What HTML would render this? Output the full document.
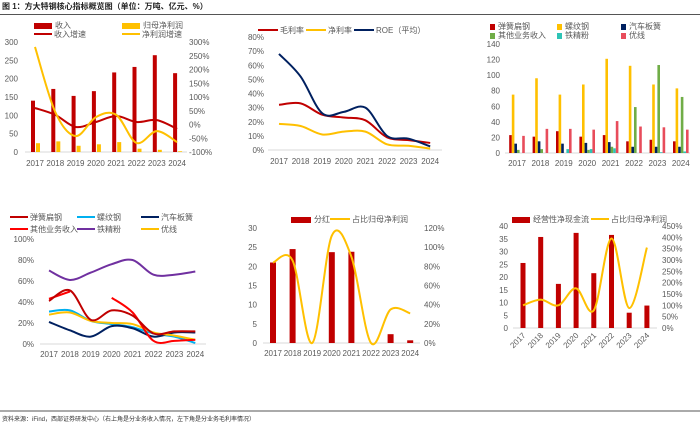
<!DOCTYPE html>
<html><head><meta charset="utf-8"><style>
body{margin:0;background:#fff;}
svg{display:block;font-family:"Liberation Sans","Noto Sans CJK SC",sans-serif;}
text{fill:#595959;font-size:8px;}
</style></head><body>
<svg id="c" width="700" height="424" viewBox="0 0 700 424">
<text x="2" y="9" style="font-size:8px;fill:#222;font-weight:bold">图 1：方大特钢核心指标概览图（单位：万吨、亿元、%）</text>
<line x1="0" y1="14.5" x2="700" y2="14.5" stroke="#555" stroke-width="1"/>
<line x1="0" y1="411" x2="700" y2="411" stroke="#555" stroke-width="1"/>
<text x="2" y="421" style="font-size:6px;fill:#333">资料来源：iFind，西部证券研发中心（右上角是分业务收入情况，左下角是分业务毛利率情况）</text>
</svg>
<script>
const years=['2017','2018','2019','2020','2021','2022','2023','2024'];
// panel 1
const revenue=[140,172,153,166,217,232,264,215];
const netProfit=[24,29,17,21,27,9,6,2];
const revGrowth=[60,35,-9,9,31,9,16,-16];
const npGrowth=[282,45,-42,27,35,-67,-24,-64];
const p1LeftTicks=[0,50,100,150,200,250,300];
const p1RightTicks=[-100,-50,0,50,100,150,200,250,300];
// panel 2
const grossMargin=[32,33,25,23,21,9,7,5];
const netMargin=[18.5,17,11,13,13,4,3,1];
const roe=[68,52,26,27,30,10,8,2.5];
const p2Ticks=[0,10,20,30,40,50,60,70,80];
// panel 3
const segSpring=[23,21,28,21,23,15,17,15];
const segRebar=[75,96,75,88,121,112,88,83];
const segAuto=[12,15,12,13,14,8,8,8];
const segOther=[4,5,0,4,8,59,113,72];
const segIron=[0,0,5,5,6,0,1,2];
const segWire=[22,31,31,30,41,34,33,30];
const p3Ticks=[0,20,40,60,80,100,120,140];
// panel 4
const gmSpring=[41,51,23,32,27,10,12,12];
const gmRebar=[31,32,22,19,16,10,7,1];
const gmAuto=[21,13,7,17,15,7,11,11];
const gmOther=[43,50,null,44,30,3,3,4];
const gmIron=[70,61,68,76,80,66,66,69];
const gmWire=[28,30,22,20,19,11,8,4];
const p4Ticks=[0,20,40,60,80,100];
// panel 5
const dividend=[21,24.5,0,23.7,23.8,0,2.3,0.7];
const divRatio=[84,86,0,112,90,0,35,31];
const p5LeftTicks=[0,5,10,15,20,25,30];
const p5RightTicks=[0,20,40,60,80,100,120];
// panel 6
const opCash=[25.5,35.7,17.3,37.3,21.5,36.5,6,8.8];
const cashRatio=[100,125,100,175,78,395,88,355];
const p6LeftTicks=[0,5,10,15,20,25,30,35,40];
const p6RightTicks=[0,50,100,150,200,250,300,350,400,450];

const svg=document.getElementById('c');
const NS='http://www.w3.org/2000/svg';
function mk(tag,attrs,parent){const e=document.createElementNS(NS,tag);for(const k in attrs)e.setAttribute(k,attrs[k]);(parent||svg).appendChild(e);return e;}
function txt(x,y,s,anchor,size,parent){const t=mk('text',{x:x,y:y,'text-anchor':anchor||'start'},parent);if(size)t.style.fontSize=size+'px';t.textContent=s;return t;}
function scale(d0,d1,r0,r1){return v=>r0+(v-d0)/(d1-d0)*(r1-r0);}
function smooth(pts){
  let d='';
  for(let i=0;i<pts.length;i++){
    const p=pts[i];
    if(i===0){d+='M'+p[0]+','+p[1];continue;}
    const p0=pts[i-2]||pts[i-1],p1=pts[i-1],p2=p,p3=pts[i+1]||p;
    const c1=[p1[0]+(p2[0]-p0[0])/6,p1[1]+(p2[1]-p0[1])/6];
    const c2=[p2[0]-(p3[0]-p1[0])/6,p2[1]-(p3[1]-p1[1])/6];
    d+='C'+c1[0]+','+c1[1]+' '+c2[0]+','+c2[1]+' '+p2[0]+','+p2[1];
  }
  return d;
}
function line(vals,xf,yf,color,name,g){
  let segs=[],cur=[];
  vals.forEach((v,i)=>{if(v===null){if(cur.length)segs.push(cur);cur=[];}else cur.push([xf(i),yf(v)]);});
  if(cur.length)segs.push(cur);
  segs.forEach(s=>{
    const p=mk('path',{d:smooth(s),fill:'none',stroke:color,'stroke-width':2},g);
    
    
  });
}
function bars(vals,xf,yf,w,off,color,name,g){
  vals.forEach((v,i)=>{
    const y0=yf(0),y1=yf(v);
    const r=mk('rect',{x:xf(i)+off-w/2,y:Math.min(y0,y1),width:w,height:Math.abs(y0-y1),fill:color},g);
    
    
  });
}
function group(name){const g=mk('g',{});return g;}
function legRect(x,y,color,label,g,w){
  const r=mk('rect',{x:x,y:y-5,width:w||6,height:6,fill:color},g);
  
  const t=txt(x+(w||6)+3,y,label,'start',8,g);
}
function legLine(x,y,color,label,g,w){
  const l=mk('line',{x1:x,y1:y-3,x2:x+(w||18),y2:y-3,stroke:color,'stroke-width':2},g);
  
  const t=txt(x+(w||18)+2,y,label,'start',8,g);
}
function xLabels(xf,y,g,rot){
  years.forEach((s,i)=>{
    const t=rot?txt(xf(i),y,s,'end',8,g):txt(xf(i),y,s,'middle',8,g);
    if(rot)t.setAttribute('transform','rotate(-45 '+xf(i)+' '+y+')');
    
  });
}
function yLabels(ticks,yf,x,anchor,fmt,g){
  ticks.forEach(v=>{const t=txt(x,yf(v)+3,fmt(v),anchor,8,g);});
}
function axis(x0,x1,y,g){const l=mk('line',{x1:x0,y1:y,x2:x1,y2:y,stroke:'#d9d9d9','stroke-width':1},g);}
const pct=v=>v+'%';

// ---- Panel 1
{const g=group('panel-revenue-profit');
 const xf=i=>35+i*20.3, yl=scale(0,300,152,42), yr=scale(-100,300,152,42);
 axis(25,187,152,g);
 yLabels(p1LeftTicks,yl,18,'end',String,g);
 yLabels(p1RightTicks,yr,189,'start',pct,g);
 bars(revenue,xf,yl,4,-2,'#c00000','bar-revenue',g);
 bars(netProfit,xf,yl,4,3,'#ffc000','bar-net-profit',g);
 line(revGrowth,xf,yr,'#c00000','line-revenue-growth',g);
 line(npGrowth,xf,yr,'#ffc000','line-profit-growth',g);
 xLabels(xf,166,g);
 legRect(34,28,'#c00000','收入',g,18);legRect(122,28,'#ffc000','归母净利润',g,18);
 legLine(34,37,'#c00000','收入增速',g);legLine(122,37,'#ffc000','净利润增速',g);
}
// ---- Panel 2
{const g=group('panel-margins');
 const xf=i=>279+i*21.6, yf=scale(0,80,150,37);
 axis(268,442,150,g);
 yLabels(p2Ticks,yf,264,'end',pct,g);
 line(grossMargin,xf,yf,'#c00000','line-gross-margin',g);
 line(netMargin,xf,yf,'#ffc000','line-net-margin',g);
 line(roe,xf,yf,'#002060','line-roe',g);
 xLabels(xf,164,g);
 legLine(258,33,'#c00000','毛利率',g,20);legLine(306,33,'#ffc000','净利率',g,20);legLine(354,33,'#002060','ROE（平均）',g,20);
}
// ---- Panel 3
{const g=group('panel-segment-revenue');
 const xf=i=>517+i*23.4, yf=scale(0,140,153,44);
 axis(505,690,153,g);
 yLabels(p3Ticks,yf,500,'end',String,g);
 const w=2.6;
 bars(segSpring,xf,yf,w,-6.5,'#c00000','bar-spring-steel',g);
 bars(segRebar,xf,yf,w,-3.9,'#ffc000','bar-rebar',g);
 bars(segAuto,xf,yf,w,-1.3,'#002060','bar-auto-spring',g);
 bars(segOther,xf,yf,w,1.3,'#70ad47','bar-other',g);
 bars(segIron,xf,yf,w,3.9,'#2ec4b6','bar-iron-ore',g);
 bars(segWire,xf,yf,w,6.5,'#e84c5b','bar-wire',g);
 xLabels(xf,166,g);
 legRect(490,29,'#c00000','弹簧扁钢',g,5);legRect(557,29,'#ffc000','螺纹钢',g,5);legRect(621,29,'#002060','汽车板簧',g,5);
 legRect(490,38,'#70ad47','其他业务收入',g,5);legRect(557,38,'#2ec4b6','铁精粉',g,5);legRect(621,38,'#e84c5b','优线',g,5);
}
// ---- Panel 4
{const g=group('panel-segment-margins');
 const xf=i=>49+i*20.9, yf=scale(0,100,344,239);
 axis(40,206,344,g);
 yLabels(p4Ticks,yf,34,'end',pct,g);
 line(gmIron,xf,yf,'#7030a0','line-iron-ore',g);
 line(gmRebar,xf,yf,'#00b0f0','line-rebar',g);
 line(gmAuto,xf,yf,'#002060','line-auto-spring',g);
 line(gmWire,xf,yf,'#ffc000','line-wire',g);
 line(gmOther,xf,yf,'#ff0000','line-other',g);
 line(gmSpring,xf,yf,'#c00000','line-spring-steel',g);
 xLabels(xf,357,g);
 legLine(10,220,'#c00000','弹簧扁钢',g);legLine(77,220,'#00b0f0','螺纹钢',g);legLine(141,220,'#002060','汽车板簧',g);
 legLine(10,232,'#ff0000','其他业务收入',g);legLine(77,232,'#7030a0','铁精粉',g);legLine(141,232,'#ffc000','优线',g);
}
// ---- Panel 5
{const g=group('panel-dividend');
 const xf=i=>273+i*19.6, yl=scale(0,30,343,228), yr=scale(0,120,343,228);
 axis(263,420,343,g);
 yLabels(p5LeftTicks,yl,257,'end',String,g);
 yLabels(p5RightTicks,yr,424,'start',pct,g);
 bars(dividend,xf,yl,6,0,'#c00000','bar-dividend',g);
 line(divRatio,xf,yr,'#ffc000','line-dividend-ratio',g);
 xLabels(xf,356,g);
 legRect(291,222,'#c00000','分红',g,20);legLine(330,222,'#ffc000','占比归母净利润',g,20);
}
// ---- Panel 6
{const g=group('panel-operating-cash');
 const xf=i=>523+i*17.7, yl=scale(0,40,328,226), yr=scale(0,450,328,226);
 axis(513,657,328,g);
 yLabels(p6LeftTicks,yl,508,'end',String,g);
 yLabels(p6RightTicks,yr,662,'start',pct,g);
 bars(opCash,xf,yl,5,0,'#c00000','bar-operating-cash',g);
 line(cashRatio,xf,yr,'#ffc000','line-cash-ratio',g);
 xLabels(i=>xf(i)+3,336,g,true);
 legRect(512,222,'#c00000','经营性净现金流',g,18);legLine(591,222,'#ffc000','占比归母净利润',g,18);
}
</script>
</body></html>
